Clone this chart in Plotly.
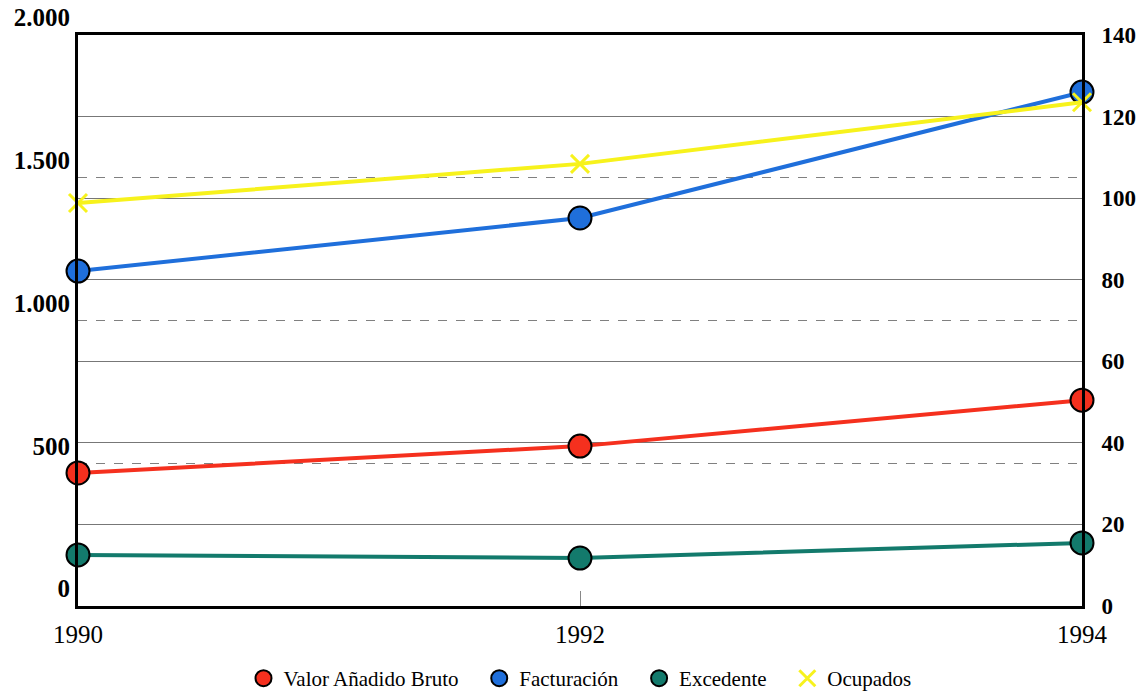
import plotly.graph_objects as go

years = [1990, 1992, 1994]
valor_anadido = [466, 560, 721]
facturacion = [1173, 1359, 1800]
excedente = [179, 168, 221]
ocupados = [98.8, 108.4, 123.5]

left_ticks = [0, 500, 1000, 1500, 2000]
left_labels = ["0", "500", "1.000", "1.500", "2.000"]
right_ticks = [0, 20, 40, 60, 80, 100, 120, 140]

RED = "#F5301E"
BLUE = "#1F6FDB"
TEAL = "#137A6C"
YELLOW = "#F7F21C"
SERIF = "Liberation Serif, Times New Roman, serif"

fig = go.Figure()

# yellow first (below others)
fig.add_trace(go.Scatter(
    x=years, y=ocupados, name="Ocupados", mode="lines+markers",
    line=dict(color=YELLOW, width=4),
    marker=dict(symbol="x-thin-open", size=18, color=YELLOW, line=dict(color=YELLOW, width=3)),
    cliponaxis=False, yaxis="y2", showlegend=False))

for name, y, color in [("Valor Añadido Bruto", valor_anadido, RED),
                       ("Facturación", facturacion, BLUE),
                       ("Excedente", excedente, TEAL)]:
    fig.add_trace(go.Scatter(
        x=years, y=y, name=name, mode="lines+markers",
        line=dict(color=color, width=4),
        marker=dict(size=23, color=color, line=dict(color="black", width=2)),
        cliponaxis=False, yaxis="y", showlegend=False))

# legend entries (marker only)
for name, color in [("Valor Añadido Bruto", RED), ("Facturación", BLUE), ("Excedente", TEAL)]:
    fig.add_trace(go.Scatter(x=[None], y=[None], name=name + "   ", mode="markers",
                             marker=dict(size=22, color=color, line=dict(color="black", width=2))))
fig.add_trace(go.Scatter(x=[None], y=[None], name="Ocupados", mode="markers",
                         marker=dict(symbol="x-thin-open", size=18, color=YELLOW,
                                     line=dict(color=YELLOW, width=3))))

fig.update_layout(
    width=1137, height=699,
    font=dict(family=SERIF, color="black"),
    margin=dict(l=78, r=55, t=35, b=93, autoexpand=False),
    paper_bgcolor="white", plot_bgcolor="white",
    showlegend=True,
    legend=dict(orientation="h", x=0.5, xanchor="center", y=-0.163, yanchor="bottom",
                font=dict(family=SERIF, size=21, color="black"),
                tracegroupgap=0, traceorder="normal", itemwidth=30),
    xaxis=dict(range=[1990, 1994], tickvals=years, ticktext=[str(y) for y in years],
               showgrid=False, zeroline=False, automargin=False,
               showline=True, linecolor="black", linewidth=3, mirror=True,
               ticks="inside", ticklen=15, tickcolor="#888888", tickwidth=1,
               tickfont=dict(family=SERIF, size=25, color="black"),
               ticklabelstandoff=4),
    yaxis=dict(range=[0, 2000], tickvals=left_ticks, ticktext=left_labels,
               showgrid=True, gridcolor="#808080", griddash="dash", gridwidth=1.2,
               zeroline=False, showline=True, linecolor="black", linewidth=3,
               automargin=False,
               ticks="", tickfont=dict(family=SERIF, size=25, color="black", weight="bold"),
               ticklabelposition="outside top", ticklabelstandoff=0),
    yaxis2=dict(range=[0, 140], tickvals=right_ticks, overlaying="y", side="right",
                showgrid=True, gridcolor="#777777", gridwidth=1.2, zeroline=False,
                showline=True, linecolor="black", linewidth=3, automargin=False,
                ticks="", tickfont=dict(family=SERIF, size=23, color="black", weight="bold"),
                ticklabelstandoff=12),
)

fig.write_html("out.html", config={"displayModeBar": False},
               post_script="document.body.style.margin='0';document.body.style.overflow='hidden';")
